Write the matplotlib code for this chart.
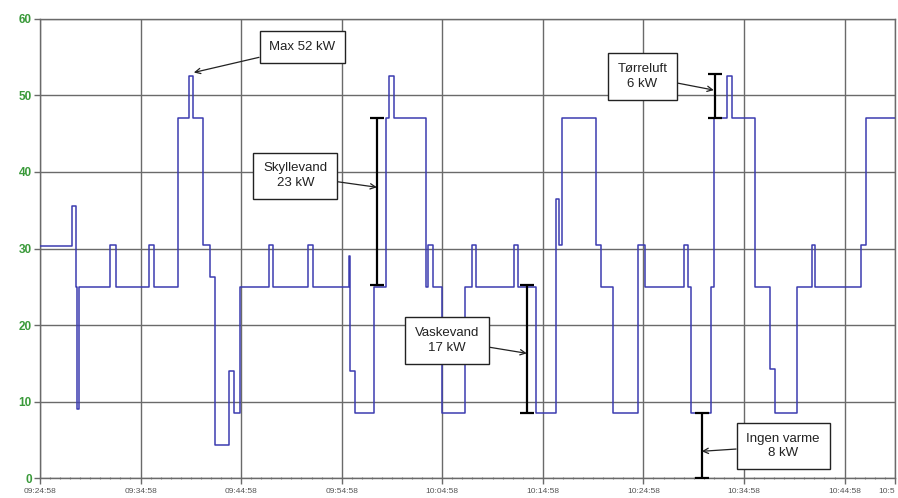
import matplotlib
matplotlib.use("Agg")
import matplotlib.pyplot as plt
from matplotlib.ticker import MultipleLocator

plt.rcParams['font.family'] = ['Liberation Sans', 'DejaVu Sans']

# step changes: minutes after 09:24:58 and power in kW
t_min = [0, 3.15, 3.55, 3.65, 3.9, 7.0, 7.6, 10.85, 11.35, 13.7, 14.8, 15.25,
         16.2, 16.9, 17.4, 18.75, 19.3, 19.9, 22.8, 23.2, 26.7, 27.1, 30.7,
         30.85, 31.3, 33.2, 34.4, 34.75, 35.2, 38.4, 38.6, 39.1, 40.0, 42.3,
         42.95, 43.4, 47.1, 47.5, 49.3, 51.3, 51.65, 51.95, 55.3, 55.8, 57.0,
         59.5, 60.2, 64.0, 64.45, 64.75, 66.7, 67.0, 68.35, 68.8, 71.1, 72.6,
         73.1, 75.3, 76.75, 77.1, 81.6, 82.1, 85.0]
power_kw = [30.3, 35.5, 25, 9, 25, 30.5, 25, 30.5, 25, 47, 52.5, 47,
            30.5, 26.3, 4.3, 14, 8.5, 25, 30.5, 25, 30.5, 25, 29,
            14, 8.5, 25, 47, 52.5, 47, 25, 30.5, 25, 8.5, 25,
            30.5, 25, 30.5, 25, 8.5, 36.5, 30.5, 47, 30.5, 25, 8.5,
            30.5, 25, 30.5, 25, 8.5, 25, 47, 52.5, 47, 25, 14.3,
            8.5, 25, 30.5, 25, 30.5, 47, 47]

tick_labels = ["09:24:58", "09:34:58", "09:44:58", "09:54:58", "10:04:58",
               "10:14:58", "10:24:58", "10:34:58", "10:44:58", "10:5"]
tick_pos = [0, 10, 20, 30, 40, 50, 60, 70, 80, 85]

# annotations: text, arrow tip (min, kW), box centre (min, kW)
notes = ["Max 52 kW", "Skyllevand\n23 kW", "Tørreluft\n6 kW",
         "Vaskevand\n17 kW", "Ingen varme\n8 kW"]
note_tip = [(15.3, 53.0), (33.5, 38.0), (67.0, 50.7), (48.4, 16.3), (65.8, 3.5)]
note_box = [(26.1, 56.3), (25.4, 39.5), (59.9, 52.5), (40.5, 18.0), (73.9, 4.2)]

# measured ranges: x, low, high
bar_x = [33.55, 67.1, 48.4, 65.8]
bar_low = [25.2, 47.0, 8.5, 0.0]
bar_high = [47.0, 52.8, 25.2, 8.5]

fig = plt.figure(figsize=(8.98, 4.98), dpi=100)
ax = fig.add_axes([0.0445, 0.040, 0.952, 0.922])

ax.plot(t_min, power_kw, drawstyle='steps-post', color='#3c3cb0', lw=1.1, zorder=3)

for x, lo, hi in zip(bar_x, bar_low, bar_high):
    ax.errorbar(x, (lo + hi) / 2, yerr=(hi - lo) / 2, fmt='none', ecolor='black',
                elinewidth=1.6, capsize=5, capthick=1.6, zorder=4)

for txt, tip, box in zip(notes, note_tip, note_box):
    ax.annotate(txt, xy=tip, xytext=box, ha='center', va='center', fontsize=9.5,
                color='#222222', linespacing=1.3,
                bbox=dict(boxstyle='square,pad=0.75', fc='white', ec='#222222', lw=1.0),
                arrowprops=dict(arrowstyle='->', color='#222222', lw=0.9,
                                shrinkA=0, shrinkB=0), zorder=5)

ax.set_xlim(0, 85)
ax.set_ylim(0, 60)
ax.set_xticks(tick_pos)
ax.set_xticklabels(tick_labels)
ax.get_xticklabels()[-1].set_horizontalalignment('right')
ax.xaxis.set_minor_locator(MultipleLocator(1))
ax.yaxis.set_major_locator(MultipleLocator(10))
ax.grid(True, which='major', color='#6a6a6a', lw=1.0, zorder=1)

for lbl in ax.get_yticklabels():
    lbl.set_color('#3a9a3a')
    lbl.set_fontweight('bold')
ax.tick_params(axis='y', labelsize=8.5, length=4, width=1, color='#6a6a6a', pad=2)
ax.tick_params(axis='x', which='major', labelsize=6, labelcolor='#555555',
               length=4, width=1, color='#6a6a6a', pad=3)
ax.tick_params(axis='x', which='minor', length=2, width=0.8, color='#888888',
               direction='inout')
for s in ax.spines.values():
    s.set_color('#6a6a6a')
    s.set_linewidth(1.0)

fig.savefig('out.png', dpi=100)
